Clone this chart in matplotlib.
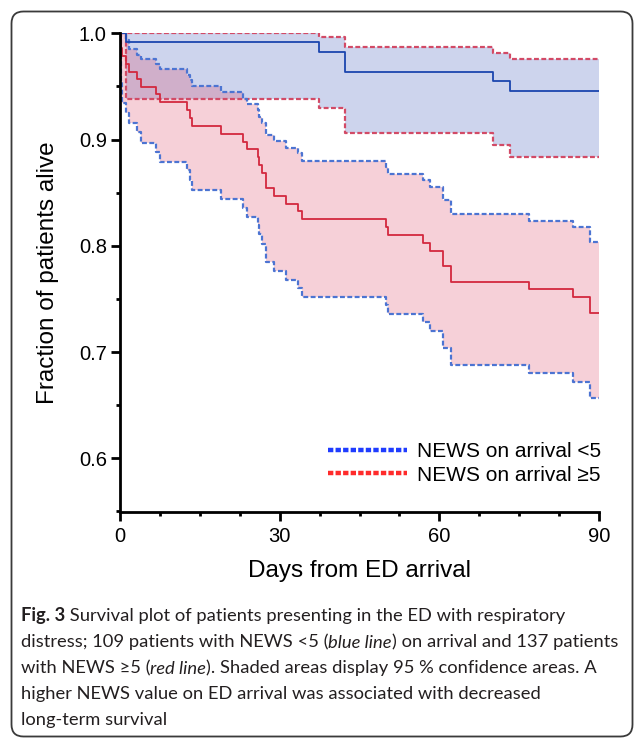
import matplotlib
matplotlib.use("Agg")
import matplotlib.pyplot as plt
from matplotlib.lines import Line2D
from matplotlib.patches import FancyBboxPatch
from matplotlib.transforms import IdentityTransform

# ---------------- data ----------------
# NEWS on arrival <5 (blue)
blue_t = [0, 1.2, 37.3, 42.3, 70.0, 73.3]
blue_s = [1.0, 0.9915, 0.982, 0.9638, 0.9547, 0.9456]
blue_hi = [1.0, 1.0, 0.9962, 0.9874, 0.9817, 0.9758]
blue_lo = [1.0, 0.938, 0.9298, 0.9066, 0.895, 0.8836]

# NEWS on arrival >=5 (red)
red_t = [0, 0.1, 0.43, 1.06, 1.6, 3.25, 3.9, 6.8, 7.45, 12.6, 13.2, 13.5,
         19.0, 23.1, 23.8, 26.0, 26.2, 26.7, 27.4, 28.9, 31.1, 33.4, 34.2,
         50.0, 50.3, 56.9, 58.3, 60.6, 62.2, 76.9, 85.1, 88.3]
red_s = [1.0, 0.9858, 0.9789, 0.971, 0.9638, 0.9566, 0.9496, 0.9427, 0.9349,
         0.9276, 0.9204, 0.9128, 0.9053, 0.898, 0.8908, 0.8836, 0.8764, 0.8689,
         0.8543, 0.8468, 0.8396, 0.8324, 0.8251, 0.8176, 0.8104, 0.8028, 0.7956,
         0.7811, 0.7663, 0.759, 0.7515, 0.7368]
red_hi = [1.0, 1.0, 1.0, 0.994, 0.9855, 0.9798, 0.976, 0.971, 0.9666, 0.961,
          0.9556, 0.9506, 0.9449, 0.938, 0.9333, 0.9276, 0.9214, 0.9157, 0.904,
          0.8984, 0.8918, 0.8874, 0.8798, 0.874, 0.8675, 0.8616, 0.8553, 0.8427,
          0.8298, 0.8232, 0.8176, 0.804]
red_lo = [1.0, 0.955, 0.9342, 0.9248, 0.916, 0.9075, 0.8965, 0.888, 0.8789,
          0.871, 0.8616, 0.8528, 0.8443, 0.8355, 0.827, 0.8192, 0.8107, 0.8019,
          0.7845, 0.7761, 0.7682, 0.76, 0.7515, 0.744, 0.7358, 0.7279, 0.7194,
          0.7043, 0.688, 0.6802, 0.6723, 0.6572]

t_end = 90
labels = ["NEWS on arrival <5", "NEWS on arrival \u22655"]
x_ticks = [0, 30, 60, 90]
y_ticks = [0.6, 0.7, 0.8, 0.9, 1.0]
xlabel = "Days from ED arrival"
ylabel = "Fraction of patients alive"

caption_lines = [
    [("Fig. 3", "bold", "normal"),
     (" Survival plot of patients presenting in the ED with respiratory", "normal", "normal")],
    [("distress; 109 patients with NEWS <5 (", "normal", "normal"),
     ("blue line", "normal", "italic"),
     (") on arrival and 137 patients", "normal", "normal")],
    [("with NEWS \u22655 (", "normal", "normal"),
     ("red line", "normal", "italic"),
     ("). Shaded areas display 95 % confidence areas. A", "normal", "normal")],
    [("higher NEWS value on ED arrival was associated with decreased", "normal", "normal")],
    [("long-term survival", "normal", "normal")],
]

# ---------------- figure ----------------
plt.rcParams['font.family'] = ['Liberation Sans', 'DejaVu Sans']
W, H = 635, 739
fig = plt.figure(figsize=(W / 100, H / 100), dpi=100)
fig.patch.set_facecolor("white")

# caption frame (pixel coordinates, origin bottom-left)
frame = FancyBboxPatch((11.5, H - 736.5), 621, 725,
                       boxstyle="round,pad=0,rounding_size=12",
                       transform=IdentityTransform(), facecolor="none",
                       edgecolor="#3a3a3a", lw=1.3)
fig.patches.append(frame)

ax = fig.add_axes([120 / W, 1 - 511.5 / H, (599 - 120) / W, (511.5 - 33.3) / H])


def ext(t, v):
    return list(t) + [t_end], list(v) + [v[-1]]


bt, bs = ext(blue_t, blue_s)
_, bhi = ext(blue_t, blue_hi)
_, blo = ext(blue_t, blue_lo)
rt, rs = ext(red_t, red_s)
_, rhi = ext(red_t, red_hi)
_, rlo = ext(red_t, red_lo)

ax.fill_between(bt, blo, bhi, step="post", color=(0.16, 0.27, 0.71), alpha=0.23, lw=0)
ax.fill_between(rt, rlo, rhi, step="post", color=(0.86, 0.24, 0.36), alpha=0.24, lw=0)

dash = (0, (2.2, 1.1))
ax.step(bt, bhi, where="post", color="#d24a66", lw=1.6, ls=dash)
ax.step(bt, blo, where="post", color="#d24a66", lw=1.6, ls=dash)
ax.step(rt, rhi, where="post", color="#4c74d2", lw=1.6, ls=dash)
ax.step(rt, rlo, where="post", color="#4c74d2", lw=1.6, ls=dash)

ax.step(bt, bs, where="post", color="#1b46ae", lw=1.3)
ax.step(rt, rs, where="post", color="#d3283f", lw=1.3)

ax.set_xlim(0, 90)
ax.set_ylim(0.55, 1.0)
ax.set_xticks(x_ticks)
ax.set_xticks([v for v in [7.5 * i for i in range(13)] if v not in x_ticks], minor=True)
ax.set_yticks(y_ticks)
ax.set_yticks([0.55, 0.65, 0.75, 0.85, 0.95], minor=True)
ax.set_yticklabels(["%.1f" % v for v in y_ticks])
ax.set_xticklabels([str(v) for v in x_ticks])

for s in ["top", "right"]:
    ax.spines[s].set_visible(False)
for s in ["left", "bottom"]:
    ax.spines[s].set_linewidth(2.0)
    ax.spines[s].set_color("black")
ax.tick_params(which="major", length=6.5, width=2.0, labelsize=14.5, pad=3, colors="black")
ax.tick_params(axis="x", which="major", pad=5)
ax.tick_params(which="minor", length=3.2, width=2.0, colors="black")
ax.set_facecolor("none")

ax.set_xlabel(xlabel, fontsize=17.5, labelpad=10)
ax.set_ylabel(ylabel, fontsize=17.5, labelpad=14)

handles = [Line2D([], [], color="#1f3cff", lw=3.2, ls=(0, (1.2, 0.5))),
           Line2D([], [], color="#ff2b2b", lw=3.2, ls=(0, (1.2, 0.5)))]
fig.legend(handles, labels, loc="upper left",
           bbox_to_anchor=(328 / W, 1 - 442 / H), frameon=False,
           fontsize=15, handlelength=3.8, handletextpad=0.45,
           labelspacing=0.22, borderpad=0, borderaxespad=0)

# caption
cap_ax = fig.add_axes([0, 0, 1, 1])
cap_ax.axis("off")
cap_ax.set_xlim(0, W)
cap_ax.set_ylim(H, 0)
base_y = [621.5, 647.5, 673.5, 699.3, 725]
cap_x0 = 21
cap_right = 621
cap_font = ['Lato', 'Liberation Sans', 'DejaVu Sans']
cap_size = 14.0
cap_texts = []
line_ends = []
for (parts, yb) in zip(caption_lines, base_y):
    prev = None
    for (s, weight, style) in parts:
        if prev is None:
            prev = cap_ax.text(cap_x0, yb, s, fontsize=cap_size, fontweight=weight,
                               fontstyle=style, va="baseline", ha="left",
                               family=cap_font, color="#231f20")
        else:
            prev = cap_ax.annotate(s, xy=(1, 0), xycoords=prev, va="bottom",
                                   ha="left", fontsize=cap_size, fontweight=weight,
                                   fontstyle=style, family=cap_font,
                                   color="#231f20")
        cap_texts.append(prev)
    line_ends.append(prev)

# fit the caption width to the frame
fig.canvas.draw()
r = fig.canvas.get_renderer()
widest = max(t.get_window_extent(r).x1 for t in line_ends) - cap_x0
new_size = cap_size * (cap_right - cap_x0) / widest
for t in cap_texts:
    t.set_fontsize(new_size)

fig.savefig("out.png", dpi=100)
